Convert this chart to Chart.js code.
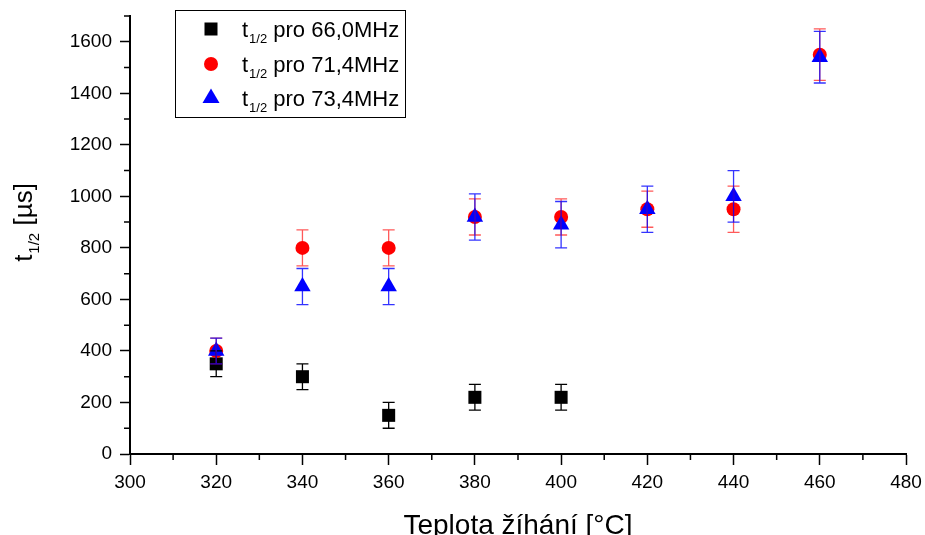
<!DOCTYPE html>
<html><head><meta charset="utf-8">
<script src="https://cdn.jsdelivr.net/npm/chart.js@4/dist/chart.umd.min.js"></script>
<style>html,body{margin:0;padding:0;background:#fff}#wrap{width:925px;height:535px}</style>
</head><body><div id="wrap"><canvas id="c" width="925" height="535"></canvas></div>
<script>
const temps66 = [320, 340, 360, 380, 400];
const vals66  = [350, 300, 150, 220, 220];
const err66   = [50, 50, 50, 50, 50];
const temps71 = [320, 340, 360, 380, 400, 420, 440, 460];
const vals71  = [400, 800, 800, 920, 920, 950, 950, 1550];
const err71   = [50, 70, 70, 70, 70, 70, 90, 100];
const temps73 = [320, 340, 360, 380, 400, 420, 440, 460];
const vals73  = [400, 650, 650, 920, 890, 950, 1000, 1540];
const err73   = [50, 70, 70, 90, 90, 90, 100, 100];
const seriesNames = ['pro 66,0MHz', 'pro 71,4MHz', 'pro 73,4MHz'];
const xTitle = 'Teplota žíhání [°C]';
const FONT = '"Liberation Sans", Arial, sans-serif';

const toPts = (xs, ys) => xs.map((x, i) => ({x: x, y: ys[i]}));

const errorBars = {
  id: 'errorBars',
  afterDatasetsDraw(chart) {
    const ctx = chart.ctx, xs = chart.scales.x, ys = chart.scales.y;
    const errs = [err66, err71, err73];
    const cols = ['#000000', 'rgba(255,0,0,0.65)', 'rgba(0,0,255,0.8)'];
    chart.data.datasets.forEach((ds, di) => {
      ctx.save();
      ctx.strokeStyle = cols[di];
      ctx.lineWidth = 1.3;
      ds.data.forEach((p, i) => {
        const px = xs.getPixelForValue(p.x);
        const top = ys.getPixelForValue(p.y + errs[di][i]);
        const bot = ys.getPixelForValue(p.y - errs[di][i]);
        ctx.beginPath();
        ctx.moveTo(px, top); ctx.lineTo(px, bot);
        ctx.moveTo(px - 6, top); ctx.lineTo(px + 6, top);
        ctx.moveTo(px - 6, bot); ctx.lineTo(px + 6, bot);
        ctx.stroke();
      });
      ctx.restore();
    });
  }
};

const extras = {
  id: 'extras',
  afterDraw(chart) {
    const ctx = chart.ctx, xs = chart.scales.x, ys = chart.scales.y;
    const ca = chart.chartArea;
    ctx.save();
    ctx.strokeStyle = '#000'; ctx.lineWidth = 1.5;
    ctx.beginPath();
    for (let v = 100; v <= 1700; v += 200) {
      const py = ys.getPixelForValue(v);
      ctx.moveTo(ca.left - 6, py); ctx.lineTo(ca.left, py);
    }
    for (let v = 310; v < 480; v += 20) {
      const px = xs.getPixelForValue(v);
      ctx.moveTo(px, ca.bottom); ctx.lineTo(px, ca.bottom + 6);
    }
    ctx.stroke();

    ctx.save();
    ctx.translate(32, 223);
    ctx.rotate(-Math.PI / 2);
    ctx.fillStyle = '#000';
    ctx.textBaseline = 'alphabetic';
    const big = '26px ' + FONT, small = '15px ' + FONT;
    ctx.font = big; const w1 = ctx.measureText('t').width;
    ctx.font = small; const w2 = ctx.measureText('1/2').width;
    ctx.font = big; const w3 = ctx.measureText(' [µs]').width;
    let x0 = -(w1 + w2 + w3) / 2;
    ctx.font = big; ctx.fillText('t', x0, 0);
    ctx.font = small; ctx.fillText('1/2', x0 + w1 + 1, 7);
    ctx.font = big; ctx.fillText(' [µs]', x0 + w1 + w2 + 1, 0);
    ctx.restore();

    ctx.lineWidth = 1;
    ctx.strokeStyle = '#000';
    ctx.strokeRect(175.5, 10.5, 230, 107);
    const rows = [29, 64, 98];
    ctx.fillStyle = '#000';
    ctx.fillRect(211 - 6.5, rows[0] - 6.5, 13, 13);
    ctx.fillStyle = '#ff0000';
    ctx.beginPath(); ctx.arc(211, rows[1], 7, 0, Math.PI * 2); ctx.fill();
    ctx.fillStyle = '#0000ff';
    ctx.beginPath();
    ctx.moveTo(211, rows[2] - 9.5);
    ctx.lineTo(211 + 8.5, rows[2] + 5);
    ctx.lineTo(211 - 8.5, rows[2] + 5);
    ctx.closePath(); ctx.fill();

    ctx.fillStyle = '#000';
    const lb = '22px ' + FONT, ls = '13px ' + FONT;
    seriesNames.forEach((name, i) => {
      const base = rows[i] + 8;
      let x = 242;
      ctx.font = lb; ctx.fillText('t', x, base); x += ctx.measureText('t').width + 1;
      ctx.font = ls; ctx.fillText('1/2', x, base + 6); x += ctx.measureText('1/2').width;
      ctx.font = lb; ctx.fillText(' ' + name, x, base);
    });
    ctx.restore();
  }
};

new Chart(document.getElementById('c'), {
  type: 'scatter',
  data: {
    datasets: [
      { label: 't1/2 ' + seriesNames[0], data: toPts(temps66, vals66), pointStyle: 'rect', pointRadius: 9.2, pointHoverRadius: 9.2,
        backgroundColor: '#000', borderColor: '#000', borderWidth: 0, order: 3 },
      { label: 't1/2 ' + seriesNames[1], data: toPts(temps71, vals71), pointStyle: 'circle', pointRadius: 7, pointHoverRadius: 7,
        backgroundColor: '#ff0000', borderColor: '#ff0000', borderWidth: 0, order: 2 },
      { label: 't1/2 ' + seriesNames[2], data: toPts(temps73, vals73), pointStyle: 'triangle', pointRadius: 9.5, pointHoverRadius: 9.5,
        backgroundColor: '#0000ff', borderColor: '#0000ff', borderWidth: 0, order: 1 }
    ]
  },
  options: {
    responsive: false,
    animation: false,
    events: [],
    layout: { padding: { top: 16, right: 19, left: 0, bottom: 0 } },
    plugins: { legend: { display: false }, tooltip: { enabled: false } },
    scales: {
      x: {
        type: 'linear', min: 300, max: 480,
        afterFit(s) { s.height = 81; s.paddingLeft = 0; s.paddingRight = 0; },
        grid: { drawOnChartArea: false, tickLength: 11, tickWidth: 1.5, tickColor: '#000' },
        border: { color: '#000', width: 2 },
        ticks: { stepSize: 20, color: '#000', font: { family: FONT, size: 19 }, padding: 6, maxRotation: 0, includeBounds: false,
                 callback: (v) => String(v) },
        title: { display: true, text: xTitle, color: '#000', font: { family: FONT, size: 28, lineHeight: 0.65 }, padding: 0 }
      },
      y: {
        type: 'linear', min: 0, max: 1700,
        afterFit(s) { s.width = 130; s.paddingTop = 0; s.paddingBottom = 0; },
        grid: { drawOnChartArea: false, tickLength: 10, tickWidth: 1.5, tickColor: '#000' },
        border: { color: '#000', width: 2 },
        ticks: { stepSize: 200, color: '#000', font: { family: FONT, size: 19 }, padding: 8, includeBounds: false,
                 callback: (v) => String(v) }
      }
    }
  },
  plugins: [errorBars, extras]
});
</script>
</body></html>
